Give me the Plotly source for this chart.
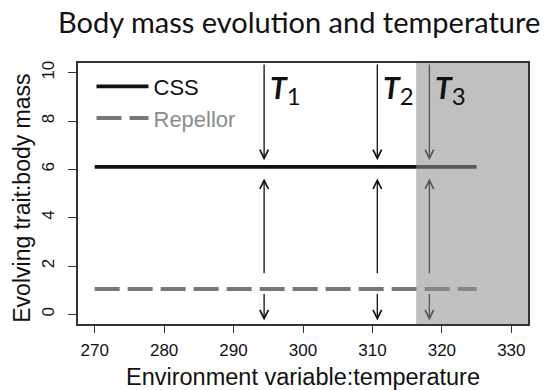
import plotly.graph_objects as go

# Environment variable (temperature) span of the equilibria
temp_start = 270
temp_end = 325

# Evolutionary equilibria of body mass
css_level = 6.1
repellor_level = 1.05

# Critical temperatures and their labels
t_values = [294.4, 310.7, 318.2]
t_labels = ["1", "2", "3"]

# Temperature above which the system is shaded
shade_from = 316.3

# Selection-gradient arrows: (tail, head) in body-mass units
arrow_spans = [(10.4, 6.38), (1.64, 5.62), (0.9, -0.25)]

x_range = [267.6, 332.4]
y_range = [-0.4, 10.4]
x_ticks = [270, 280, 290, 300, 310, 320, 330]
y_ticks = [0, 2, 4, 6, 8, 10]

R_FONT = "Liberation Sans, Arial, Helvetica, sans-serif"
CAL_FONT = "Lato, Carlito, Calibri, sans-serif"

fig = go.Figure()

fig.add_trace(go.Scatter(
    x=[temp_start, temp_end], y=[css_level, css_level],
    mode="lines", name="CSS",
    line=dict(color="#111111", width=3.6),
))
fig.add_trace(go.Scatter(
    x=[temp_start, temp_end], y=[repellor_level, repellor_level],
    mode="lines", name='<span style="color:#8c8c8c">Repellor</span>',
    line=dict(color="#777777", width=4, dash="25px,8px"),
))

# Grey zone drawn over the plot, tinting what lies beneath
fig.add_shape(
    type="rect", xref="x", yref="paper",
    x0=shade_from, x1=x_range[1], y0=0, y1=1,
    fillcolor="rgba(145,145,145,0.57)", line=dict(width=0),
    layer="above",
)

annotations = []
for i, (tv, lab) in enumerate(zip(t_values, t_labels)):
    col = "#555555" if tv > shade_from else "#111111"
    for tail, head in arrow_spans:
        annotations.append(dict(
            x=tv, y=head, ax=tv, ay=tail,
            xref="x", yref="y", axref="x", ayref="y",
            text="", showarrow=True,
            arrowhead=5, arrowsize=1.3, arrowwidth=1.3,
            arrowcolor=col, standoff=0,
        ))
    annotations.append(dict(
        x=tv, y=1, xref="x", yref="paper",
        xanchor="left", yanchor="top", xshift=4, yshift=-4,
        text=f"<b><i>T</i></b><sub><span style='font-size:24px'>{lab}</span></sub>",
        showarrow=False,
        font=dict(family=CAL_FONT, size=30, color="#111111"),
    ))

# Vertical axis title, set a fixed distance left of the frame
annotations.append(dict(
    x=0, y=0.48, xref="paper", yref="paper",
    xanchor="center", yanchor="middle", xshift=-56,
    text="Evolving trait:body mass", textangle=-90, showarrow=False,
    font=dict(family=R_FONT, size=23, color="#111111"),
))

fig.update_layout(
    width=553, height=390,
    margin=dict(l=78, r=25, t=63, b=66),
    paper_bgcolor="white", plot_bgcolor="white",
    title=dict(
        text="Body mass evolution and temperature",
        x=58 / 553, xref="container", xanchor="left",
        y=1 - 23 / 390, yref="container", yanchor="middle",
        font=dict(family=CAL_FONT, size=29, color="#111111"),
    ),
    showlegend=True,
    legend=dict(
        x=0.03, y=0.99, xanchor="left", yanchor="top",
        bgcolor="rgba(0,0,0,0)", itemwidth=52,
        font=dict(family=R_FONT, size=22, color="#111111"),
        tracegroupgap=0,
    ),
    annotations=annotations,
)

fig.update_xaxes(
    range=x_range, tickvals=x_ticks, ticktext=[str(v) for v in x_ticks],
    showgrid=False, zeroline=False, automargin=False,
    showline=True, mirror=True, linecolor="#333333", linewidth=1.5,
    ticks="outside", ticklen=7, tickwidth=1.3, tickcolor="#333333",
    tickfont=dict(family=R_FONT, size=17, color="#111111"),
    ticklabelstandoff=3,
    title=dict(text="Environment variable:temperature", standoff=11,
               font=dict(family=R_FONT, size=23.5, color="#111111")),
)
fig.update_yaxes(
    range=y_range, tickvals=y_ticks, ticktext=[str(v) for v in y_ticks],
    showgrid=False, zeroline=False, automargin=False,
    showline=True, mirror=True, linecolor="#333333", linewidth=1.5,
    ticks="outside", ticklen=8, tickwidth=1.3, tickcolor="#333333",
    tickangle=-90, ticklabelstandoff=7,
    tickfont=dict(family=R_FONT, size=17, color="#111111"),
)

fig.write_html("out.html")
